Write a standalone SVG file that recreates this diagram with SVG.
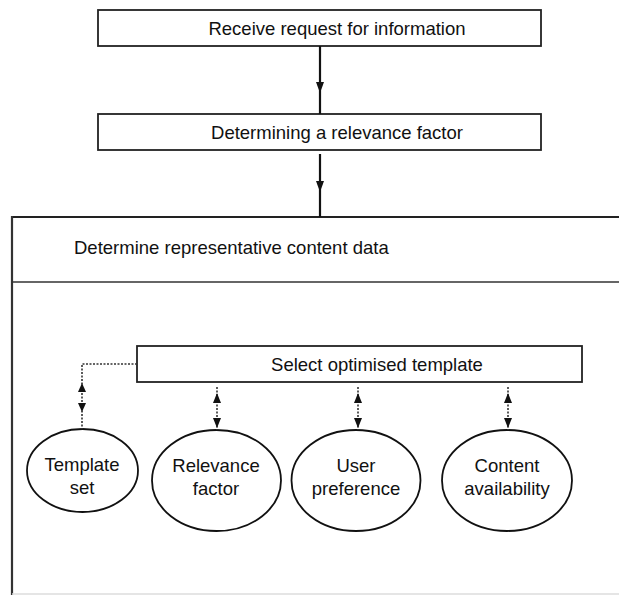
<svg xmlns="http://www.w3.org/2000/svg" width="619" height="595" viewBox="0 0 619 595">
<defs>
<style>
text{font-family:"Liberation Sans",Arial,sans-serif;font-size:18.5px;fill:#111}
.box{fill:#fff;stroke:#222;stroke-width:1.8}
.ell{fill:#fff;stroke:#111;stroke-width:1.8}
.solid{stroke:#111;stroke-width:2.2;fill:none}
.dot{stroke:#333;stroke-width:1.6;fill:none;stroke-dasharray:2 1.5}
.head{fill:#111}
</style>
</defs>
<rect width="619" height="595" fill="#fff"/>
<g id="container">
<line x1="12" y1="217" x2="619" y2="217" stroke="#222" stroke-width="1.8"/>
<line x1="12" y1="216" x2="12" y2="595" stroke="#333" stroke-width="2.2"/>
<line x1="12" y1="282" x2="619" y2="282" stroke="#333" stroke-width="1.6"/>
<line x1="12" y1="594" x2="619" y2="594" stroke="#ddd" stroke-width="1.5"/>
<text x="74" y="254">Determine representative content data</text>
</g>
<g id="receive">
<rect class="box" x="98" y="10" width="443" height="36"/>
<text x="337" y="35" text-anchor="middle">Receive request for information</text>
</g>
<g id="relevance-step">
<rect class="box" x="98" y="114" width="443" height="36"/>
<text x="337" y="139" text-anchor="middle">Determining a relevance factor</text>
</g>
<g id="select">
<rect class="box" x="137" y="346" width="445" height="36"/>
<text x="377" y="371" text-anchor="middle">Select optimised template</text>
</g>
<g id="template-set">
<ellipse class="ell" cx="82.5" cy="470.5" rx="55.5" ry="41.5"/>
<text x="82" y="471" text-anchor="middle">Template</text>
<text x="82" y="494" text-anchor="middle">set</text>
</g>
<g id="relevance-factor">
<ellipse class="ell" cx="216.5" cy="480.5" rx="64.5" ry="50.5"/>
<text x="216" y="472" text-anchor="middle">Relevance</text>
<text x="216" y="495" text-anchor="middle">factor</text>
</g>
<g id="user-preference">
<ellipse class="ell" cx="356" cy="480.5" rx="64.5" ry="50.5"/>
<text x="356" y="472" text-anchor="middle">User</text>
<text x="356" y="495" text-anchor="middle">preference</text>
</g>
<g id="content-availability">
<ellipse class="ell" cx="507" cy="480.5" rx="65" ry="50.5"/>
<text x="507" y="472" text-anchor="middle">Content</text>
<text x="507" y="495" text-anchor="middle">availability</text>
</g>
<g id="connectors">
<line class="solid" x1="320" y1="46" x2="320" y2="114"/>
<polygon class="head" points="316,82 324,82 320,93"/>
<line class="solid" x1="320" y1="154" x2="320" y2="217"/>
<polygon class="head" points="316,181 324,181 320,192"/>
<polyline class="dot" points="137,364 82,364 82,429"/>
<polygon class="head" points="82,383 78,392 86,392"/>
<polygon class="head" points="82,412 78,403 86,403"/>
<line class="dot" x1="217" y1="387" x2="217" y2="430"/>
<polygon class="head" points="217,393 213,403 221,403"/>
<polygon class="head" points="217,428 213,418 221,418"/>
<line class="dot" x1="358" y1="387" x2="358" y2="430"/>
<polygon class="head" points="358,393 354,403 362,403"/>
<polygon class="head" points="358,428 354,418 362,418"/>
<line class="dot" x1="508" y1="387" x2="508" y2="430"/>
<polygon class="head" points="508,393 504,403 512,403"/>
<polygon class="head" points="508,428 504,418 512,418"/>
</g>
</svg>
